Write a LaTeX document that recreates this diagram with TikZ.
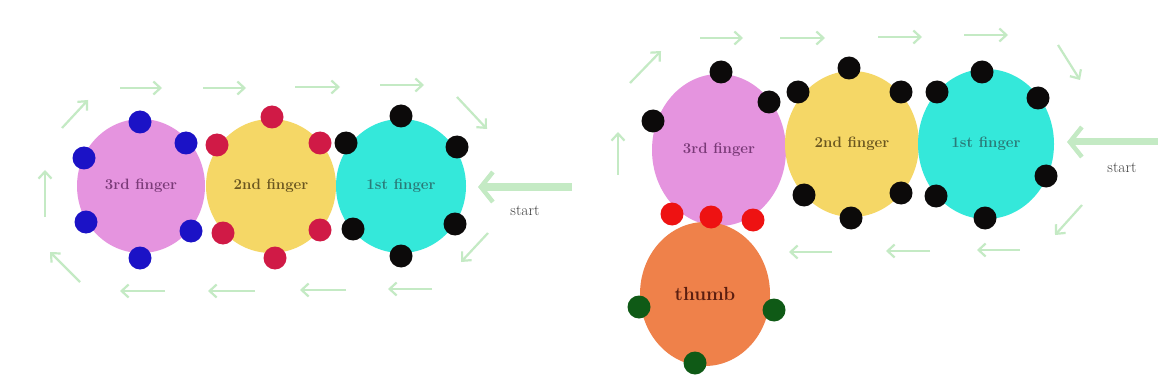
\documentclass[tikz,border=0pt]{standalone}
\usepackage{fontspec}
\usetikzlibrary{arrows.meta,shapes.geometric}
\definecolor{pinkF}{HTML}{E594DF}
\definecolor{yellowF}{HTML}{F5D766}
\definecolor{cyanF}{HTML}{34E8DA}
\definecolor{orangeF}{HTML}{EF814A}
\definecolor{arrG}{HTML}{C4EAC4}
\definecolor{dBlue}{HTML}{1B12C6}
\definecolor{dCrim}{HTML}{D01A46}
\definecolor{dRed}{HTML}{EE1212}
\definecolor{dGreen}{HTML}{0F5A16}
\definecolor{dBlack}{HTML}{0C0A0A}
\definecolor{tPink}{HTML}{7A3A78}
\definecolor{tYel}{HTML}{6A5620}
\definecolor{tCyan}{HTML}{2A7A78}
\definecolor{tThumb}{HTML}{5A1E10}
\tikzset{
  finger/.style={ellipse, draw=none, fill=#1, inner sep=0pt, font=\bfseries\fontsize{15}{17}\selectfont},
  fdot/.style={circle, fill=#1, draw=none, minimum width=22pt, minimum height=23pt, inner sep=0pt},
  garrow/.style={draw=arrG, line width=2.2pt, -{Straight Barb[length=7pt,width=13pt,line width=2.2pt]}},
  bigarrow/.style={draw=arrG, line width=7pt, -{Straight Barb[length=12pt,width=30pt,line width=4.5pt]}},
  lbl/.style={font=\fontsize{15.5}{17}\selectfont, text=black!75}
}
\begin{document}
\begin{tikzpicture}[x=1pt,y=-1pt]
\useasboundingbox[fill=white] (0,0) rectangle (1158,390);
% ---------- left diagram ----------
\node[finger=pinkF, minimum width=128pt, minimum height=134pt, text=tPink] (L3) at (141,186) {3rd finger};
\node[finger=yellowF, minimum width=130pt, minimum height=134pt, text=tYel] (L2) at (271,186) {2nd finger};
\node[finger=cyanF, minimum width=130pt, minimum height=134pt, text=tCyan] (L1) at (401,186) {1st finger};
% blue dots
\node[fdot=dBlue] (lb1) at (140,122) {};
\node[fdot=dBlue] (lb2) at (186,143) {};
\node[fdot=dBlue] (lb3) at (84,158) {};
\node[fdot=dBlue] (lb4) at (86,222) {};
\node[fdot=dBlue] (lb5) at (191,231) {};
\node[fdot=dBlue] (lb6) at (140,258) {};
% crimson dots
\node[fdot=dCrim] (lr1) at (272,117) {};
\node[fdot=dCrim] (lr2) at (217,145) {};
\node[fdot=dCrim] (lr3) at (320,143) {};
\node[fdot=dCrim] (lr4) at (223,233) {};
\node[fdot=dCrim] (lr5) at (320,230) {};
\node[fdot=dCrim] (lr6) at (275,258) {};
% black dots
\node[fdot=dBlack] (lk1) at (401,116) {};
\node[fdot=dBlack] (lk2) at (346,143) {};
\node[fdot=dBlack] (lk3) at (457,147) {};
\node[fdot=dBlack] (lk4) at (353,229) {};
\node[fdot=dBlack] (lk5) at (455,224) {};
\node[fdot=dBlack] (lk6) at (401,256) {};
% arrows
\draw[garrow] (62,128) -- (88,100);
\draw[garrow] (120,88) -- (162,88);
\draw[garrow] (203,88) -- (246,88);
\draw[garrow] (295,87) -- (340,87);
\draw[garrow] (380,85) -- (424,85);
\draw[garrow] (457,97) -- (487,129);
\draw[bigarrow] (572,187) -- (478,187);
\node[lbl] (ls) at (525,211) {start};
\draw[garrow] (488,233) -- (461,262);
\draw[garrow] (432,289) -- (388,289);
\draw[garrow] (346,290) -- (300,290);
\draw[garrow] (255,291) -- (208,291);
\draw[garrow] (165,291) -- (120,291);
\draw[garrow] (80,282) -- (50,252);
\draw[garrow] (45,217) -- (45,170);
% ---------- right diagram ----------
\node[finger=pinkF, minimum width=134pt, minimum height=152pt, text=tPink] (R3) at (719,150) {3rd finger};
\node[finger=yellowF, minimum width=134pt, minimum height=146pt, text=tYel] (R2) at (852,144) {2nd finger};
\node[finger=cyanF, minimum width=136pt, minimum height=150pt, text=tCyan] (R1) at (986,144) {1st finger};
\node[finger=orangeF, minimum width=130pt, minimum height=144pt, text=tThumb, font=\bfseries\fontsize{19}{21}\selectfont] (RT) at (705,294) {thumb};
% black dots
\node[fdot=dBlack] (rk1) at (721,72) {};
\node[fdot=dBlack] (rk2) at (769,102) {};
\node[fdot=dBlack] (rk3) at (653,121) {};
\node[fdot=dBlack] (rk4) at (849,68) {};
\node[fdot=dBlack] (rk5) at (798,92) {};
\node[fdot=dBlack] (rk6) at (901,92) {};
\node[fdot=dBlack] (rk7) at (804,195) {};
\node[fdot=dBlack] (rk8) at (901,193) {};
\node[fdot=dBlack] (rk9) at (851,218) {};
\node[fdot=dBlack] (rk10) at (982,72) {};
\node[fdot=dBlack] (rk11) at (937,92) {};
\node[fdot=dBlack] (rk12) at (1038,98) {};
\node[fdot=dBlack] (rk13) at (936,196) {};
\node[fdot=dBlack] (rk14) at (1046,176) {};
\node[fdot=dBlack] (rk15) at (985,218) {};
% red dots
\node[fdot=dRed] (rr1) at (672,214) {};
\node[fdot=dRed] (rr2) at (711,217) {};
\node[fdot=dRed] (rr3) at (753,220) {};
% green dots
\node[fdot=dGreen] (rg1) at (639,307) {};
\node[fdot=dGreen] (rg2) at (774,310) {};
\node[fdot=dGreen] (rg3) at (695,363) {};
% arrows
\draw[garrow] (630,83) -- (661,51);
\draw[garrow] (700,38) -- (743,38);
\draw[garrow] (780,38) -- (825,38);
\draw[garrow] (878,37) -- (922,37);
\draw[garrow] (964,35) -- (1008,35);
\draw[garrow] (1058,45) -- (1080,80);
\draw[bigarrow] (1158,142) -- (1067,142);
\node[lbl] (rs) at (1122,168) {start};
\draw[garrow] (1082,205) -- (1055,235);
\draw[garrow] (1020,250) -- (977,250);
\draw[garrow] (930,251) -- (886,251);
\draw[garrow] (832,252) -- (789,252);
\draw[garrow] (618,175) -- (618,132);
\end{tikzpicture}
\end{document}
